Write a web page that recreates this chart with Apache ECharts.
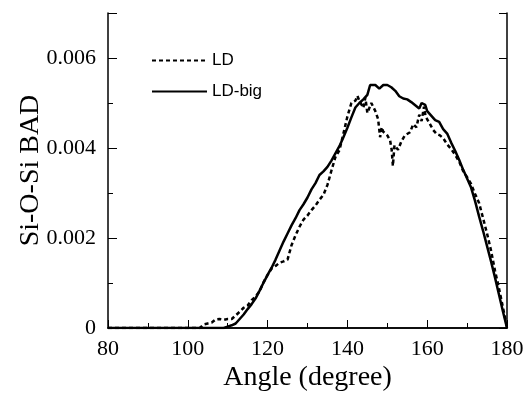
<!DOCTYPE html>
<html>
<head>
<meta charset="utf-8">
<script src="https://cdn.jsdelivr.net/npm/echarts@6/dist/echarts.min.js"></script>
<style>html,body{margin:0;padding:0;background:#fff;}#c{width:527px;height:397px;}</style>
</head>
<body>
<div id="c"></div>
<script>
var seriesNames = ['LD', 'LD-big'];
var xTicks = [80, 100, 120, 140, 160, 180];
var yTicks = [0, 0.002, 0.004, 0.006];

var ldAngles = [80, 103, 104, 105, 106, 107, 108, 109, 110, 111, 112, 113, 114, 115, 116, 117, 118, 119, 120,
  121, 122, 123, 124, 125, 126, 127, 128, 129, 130, 131, 132, 133, 134, 135, 136, 137, 138, 139, 140,
  141, 142, 142.5, 143, 144, 144.5, 145, 146, 147, 147.7, 148.2, 148.6, 149, 150, 150.7, 151.1, 151.4, 151.8,
  152.7, 153.5, 154.4, 155.7, 156.5, 157.3, 158, 158.6, 159.2, 159.6, 160.7, 161.5, 162.4, 163.2, 164,
  165, 166, 167, 168, 169, 170, 171, 172, 173, 174, 175, 176, 177, 178, 179, 180];
var ldValues = [0, 0, 0.00008, 0.0001, 0.00012, 0.00019, 0.0002, 0.00018, 0.0002, 0.0002, 0.00028, 0.00036, 0.00045, 0.0005, 0.00062, 0.0007, 0.00082, 0.00102, 0.00118,
  0.00132, 0.00138, 0.00145, 0.00148, 0.00152, 0.00184, 0.00206, 0.00225, 0.00241, 0.0025, 0.00262, 0.00272, 0.00285, 0.00296, 0.00318, 0.0035, 0.0038, 0.00395, 0.00432, 0.0047,
  0.005, 0.00505, 0.00516, 0.00505, 0.00489, 0.00512, 0.00478, 0.005, 0.00482, 0.00464, 0.00424, 0.00446, 0.00436, 0.00428, 0.00417, 0.00396, 0.0036, 0.00406,
  0.00396, 0.00414, 0.00428, 0.00435, 0.00453, 0.00446, 0.00474, 0.0046, 0.00492, 0.0047, 0.00453, 0.0044, 0.00431, 0.00428, 0.00422,
  0.00408, 0.00398, 0.00385, 0.0037, 0.00349, 0.00335, 0.0032, 0.00298, 0.00278, 0.00244, 0.0021, 0.00172, 0.00127, 0.00088, 0.00045, 0.00002];

var bigAngles = [80, 108, 109, 110, 111, 112, 113, 114, 115, 116, 117, 118, 119, 120,
  121, 122, 123, 124, 125, 126, 127, 128, 129, 130, 131, 132, 133, 134, 135, 136, 137, 138, 139, 140,
  141, 142, 143, 144, 145, 145.7, 146, 147, 148, 149, 150, 151, 152, 153, 154, 155, 156, 157, 158, 158.6, 159.5,
  160, 161, 162, 163, 164, 165, 166, 167, 168, 169, 170, 171, 172, 173, 174, 175, 176, 177, 178, 179, 180];
var bigValues = [0, 0, 0, 0.00003, 0.00006, 0.0001, 0.0002, 0.0003, 0.00042, 0.00053, 0.00066, 0.00083, 0.00101, 0.00118,
  0.00134, 0.00152, 0.00172, 0.00192, 0.0021, 0.00228, 0.00244, 0.00262, 0.00275, 0.0029, 0.00308, 0.00322, 0.0034, 0.00348, 0.00358, 0.00372, 0.00388, 0.00404, 0.00424, 0.00445,
  0.00468, 0.0049, 0.005, 0.00508, 0.00518, 0.0054, 0.0054, 0.0054, 0.00532, 0.0054, 0.0054, 0.00535, 0.00527, 0.00515, 0.0051, 0.00508, 0.00502, 0.00495, 0.00488, 0.005, 0.00496,
  0.00482, 0.00472, 0.00462, 0.00458, 0.00442, 0.00432, 0.00412, 0.00394, 0.00374, 0.00352, 0.00332, 0.00312, 0.00282, 0.00248, 0.00216, 0.00182, 0.00148, 0.00112, 0.00074, 0.00036, 0];

function pairs(xs, ys) { return xs.map(function (x, i) { return [x, ys[i]]; }); }

var serif = '"Liberation Serif", "Times New Roman", serif';
var sans = '"Liberation Sans", Arial, sans-serif';
var axisLineStyle = { color: '#000', width: 1.5 };

var chart = echarts.init(document.getElementById('c'), null, { renderer: 'canvas' });
chart.setOption({
  animation: false,
  backgroundColor: '#fff',
  grid: { left: 108, right: 20, top: 13, bottom: 58 },
  legend: {
    orient: 'vertical', left: 146, top: 47, itemWidth: 55, itemHeight: 14, itemGap: 14,
    data: seriesNames,
    itemStyle: { opacity: 0 },
    textStyle: { fontFamily: sans, fontSize: 17, color: '#000' }
  },
  xAxis: [{
    type: 'value', min: xTicks[0], max: xTicks[xTicks.length - 1], interval: xTicks[1] - xTicks[0],
    position: 'bottom',
    axisLine: { show: true, lineStyle: axisLineStyle },
    axisTick: { show: true, inside: true, length: 8, lineStyle: { color: '#000', width: 1 } },
    minorTick: { show: true, splitNumber: 2, length: 5, lineStyle: { color: '#000', width: 1 } },
    axisLabel: { fontFamily: serif, fontSize: 22, color: '#000', margin: 10 },
    splitLine: { show: false },
    name: 'Angle (degree)', nameLocation: 'middle', nameGap: 36, nameMoveOverlap: false,
    nameTextStyle: { fontFamily: serif, fontSize: 28, color: '#000' }
  }, {
    type: 'value', min: 80, max: 180, position: 'top',
    axisLine: { show: true, lineStyle: axisLineStyle },
    axisTick: { show: false }, axisLabel: { show: false }, splitLine: { show: false }
  }],
  yAxis: [{
    type: 'value', min: yTicks[0], max: 0.007, interval: yTicks[1] - yTicks[0],
    position: 'left',
    axisLine: { show: true, lineStyle: axisLineStyle },
    axisTick: { show: true, inside: true, length: 9, lineStyle: { color: '#000', width: 1 } },
    minorTick: { show: true, splitNumber: 2, length: 5, lineStyle: { color: '#000', width: 1 } },
    axisLabel: {
      fontFamily: serif, fontSize: 22, color: '#000', margin: 12,
      formatter: function (v) {
        if (v > 0.0065) return '';
        return v === 0 ? '0' : v.toFixed(3);
      }
    },
    splitLine: { show: false },
    name: 'Si-O-Si BAD', nameLocation: 'middle', nameGap: 63, nameMoveOverlap: false,
    nameTextStyle: { fontFamily: serif, fontSize: 28, color: '#000' }
  }, {
    type: 'value', min: 0, max: 0.007, interval: 0.001, position: 'right',
    axisLine: { show: true, lineStyle: axisLineStyle },
    axisTick: { show: true, inside: true, length: 8, lineStyle: { color: '#000', width: 1 } },
    axisLabel: { show: false }, splitLine: { show: false }
  }],
  series: [{
    name: seriesNames[0], type: 'line', xAxisIndex: 0, yAxisIndex: 0,
    data: pairs(ldAngles, ldValues), symbol: 'none', smooth: false,
    lineStyle: { color: '#000', width: 2.5, type: [4, 3] },
    itemStyle: { color: '#000' }, z: 3
  }, {
    name: seriesNames[1], type: 'line', xAxisIndex: 0, yAxisIndex: 0,
    data: pairs(bigAngles, bigValues), symbol: 'none', smooth: false,
    lineStyle: { color: '#000', width: 2.5, type: 'solid' },
    itemStyle: { color: '#000' }, z: 4
  }]
});
</script>
</body>
</html>
